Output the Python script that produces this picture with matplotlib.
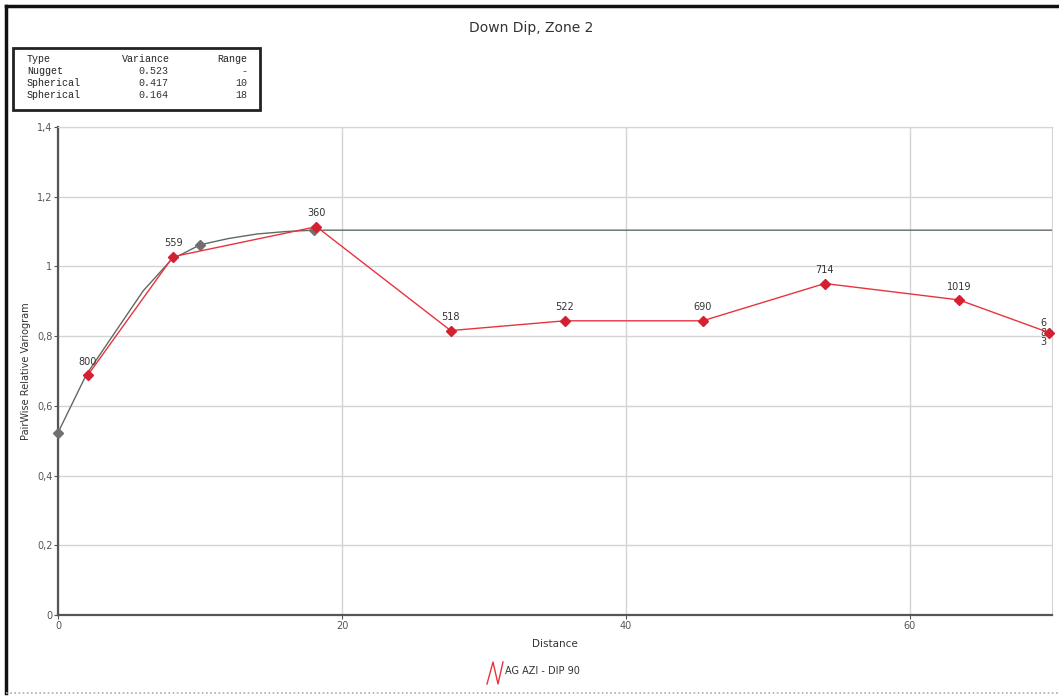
import matplotlib.pyplot as plt
from matplotlib.lines import Line2D
from matplotlib.patches import Rectangle
from matplotlib.ticker import FuncFormatter

# experimental pairwise relative variogram
lag_dist = [2.1, 8.1, 18.2, 27.65, 35.7, 45.4, 54.0, 63.45, 69.8]
gamma = [0.688, 1.028, 1.114, 0.816, 0.844, 0.844, 0.951, 0.904, 0.810]
n_pairs = ['800', '559', '360', '518', '522', '690', '714', '1019', '6\n8\n3']

# fitted model
model_dist = [0, 2, 4, 6, 8, 10, 12, 14, 16, 18, 70]
model_gamma = [0.523, 0.69, 0.81, 0.93, 1.02, 1.062, 1.080, 1.093, 1.100, 1.104, 1.104]
model_marker_idx = [0, 5, 9]

# model table
tbl_type = ['Nugget', 'Spherical', 'Spherical']
tbl_var = ['0.523', '0.417', '0.164']
tbl_range = ['-', '10', '18']

W, H = 1059, 697
fig = plt.figure(figsize=(W / 100, H / 100), dpi=100)
ax = fig.add_axes([58 / W, 1 - 615 / H, (1052 - 58) / W, (615 - 127) / H])

ax.set_xlim(0, 70)
ax.set_ylim(0, 1.4)
ax.set_xticks([0, 20, 40, 60])
ax.set_yticks([0, 0.2, 0.4, 0.6, 0.8, 1.0, 1.2, 1.4])
ax.yaxis.set_major_formatter(FuncFormatter(lambda v, p: ('%g' % round(v, 1)).replace('.', ',')))
ax.grid(True, color='#d4d4d4', lw=1.0)
ax.set_axisbelow(True)
ax.tick_params(labelsize=7, colors='#555', length=3, width=0.8, pad=1)
for s in ['top', 'right']:
    ax.spines[s].set_color('#d4d4d4')
for s in ['left', 'bottom']:
    ax.spines[s].set_color('#555')
    ax.spines[s].set_linewidth(1.6)

# model
ax.plot(model_dist, model_gamma, color='#5f6b62', lw=1.0, zorder=3)
ax.plot([model_dist[i] for i in model_marker_idx], [model_gamma[i] for i in model_marker_idx],
        ls='none', marker='D', ms=5, color='#707070', zorder=4, clip_on=False)

# experimental
ax.plot(lag_dist, gamma, color='#e8333f', lw=1.0, marker='D', ms=5.5,
        mfc='#d42030', mec='#d42030', zorder=5, clip_on=False)
for x, y, t in zip(lag_dist, gamma, n_pairs):
    if '\n' in t:
        ax.text(x - 0.4, y, t, fontsize=7, color='#333', ha='center', va='center', linespacing=0.95)
    else:
        ax.annotate(t, (x, y), xytext=(0, 6), textcoords='offset points',
                    fontsize=7, color='#333', ha='center', va='bottom')

ax.set_xlabel('Distance', fontsize=7.5, color='#333', labelpad=6)
ax.set_ylabel('PairWise Relative Variogram', fontsize=7, color='#333', labelpad=4)

fig.text(531 / W, 1 - 28 / H, 'Down Dip, Zone 2', fontsize=10, color='#333', ha='center', va='center')

# model table box
fig.add_artist(Rectangle((13 / W, 1 - 110 / H), (260 - 13) / W, (110 - 48) / H,
                         transform=fig.transFigure, fill=False, ec='#222', lw=2))
rows_y = [59, 71, 83, 95]
mono = 'Liberation Mono'
fig.text(27 / W, 1 - rows_y[0] / H, 'Type', family=mono, fontsize=7.2, va='center', color='#222')
fig.text(170 / W, 1 - rows_y[0] / H, 'Variance', family=mono, fontsize=7.2, va='center', ha='right', color='#222')
fig.text(247 / W, 1 - rows_y[0] / H, 'Range', family=mono, fontsize=7.2, va='center', ha='right', color='#222')
for i in range(len(tbl_type)):
    y = 1 - rows_y[i + 1] / H
    fig.text(27 / W, y, tbl_type[i], family=mono, fontsize=7.2, va='center', color='#222')
    fig.text(168 / W, y, tbl_var[i], family=mono, fontsize=7.2, va='center', ha='right', color='#333')
    fig.text(247 / W, y, tbl_range[i], family=mono, fontsize=7.2, va='center', ha='right', color='#333')

# legend
fig.add_artist(Line2D([487 / W, 493 / W, 498 / W, 503 / W],
                      [1 - 684 / H, 1 - 662 / H, 1 - 684 / H, 1 - 662 / H],
                      transform=fig.transFigure, color='#e8333f', lw=1.0))
fig.text(505 / W, 1 - 671 / H, 'AG AZI - DIP 90', fontsize=7, color='#333', va='center')

# outer frame
fig.add_artist(Line2D([6 / W, 6 / W], [1 - 693 / H, 1 - 6 / H], transform=fig.transFigure, color='#111', lw=2.5))
fig.add_artist(Line2D([6 / W, 1], [1 - 6 / H, 1 - 6 / H], transform=fig.transFigure, color='#111', lw=2.5))
fig.add_artist(Line2D([6 / W, 1], [1 - 693 / H, 1 - 693 / H], transform=fig.transFigure,
                      color='#aaa', lw=1.2, ls=(0, (1, 1.5))))

fig.savefig('out.png', dpi=100)
